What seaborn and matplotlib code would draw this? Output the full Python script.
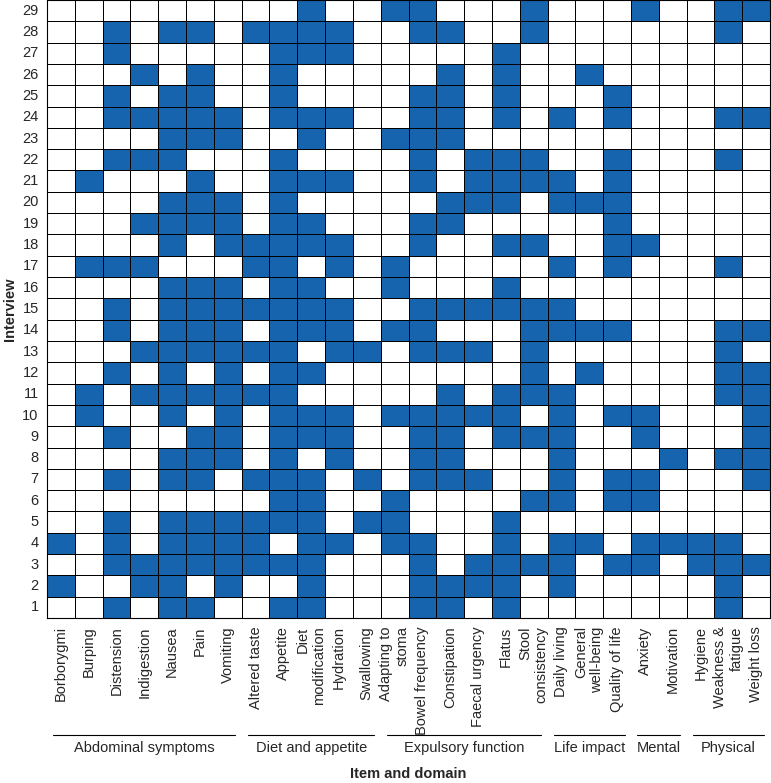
import matplotlib
matplotlib.use("Agg")
import matplotlib.pyplot as plt
import matplotlib.transforms as mtransforms
import numpy as np
import pandas as pd
import seaborn as sns
from matplotlib.colors import ListedColormap

# items (columns) and the domain they belong to
items = [
    "Borborygmi", "Burping", "Distension", "Indigestion", "Nausea", "Pain", "Vomiting",
    "Altered taste", "Appetite", "Diet\nmodification", "Hydration", "Swallowing",
    "Adapting to\nstoma", "Bowel frequency", "Constipation", "Faecal urgency", "Flatus",
    "Stool\nconsistency",
    "Daily living", "General\nwell-being", "Quality of life",
    "Anxiety", "Motivation",
    "Hygiene", "Weakness &\nfatigue", "Weight loss",
]
domains = ["Abdominal symptoms", "Diet and appetite", "Expulsory function",
           "Life impact", "Mental", "Physical"]
domain_sizes = [7, 5, 6, 3, 2, 3]

# interviews, top row first
interviews = list(range(29, 0, -1))
# 1 = item mentioned in the interview, grouped by domain
responses = [
    "0000000 00100 110001 000 10 011",  # 29
    "0010110 11110 011001 000 00 010",  # 28
    "0010000 01110 000010 000 00 000",  # 27
    "0001010 01000 001010 010 00 000",  # 26
    "0010110 01000 011010 001 00 000",  # 25
    "0011111 01110 011010 101 00 011",  # 24
    "0000111 00100 111000 000 00 000",  # 23
    "0011100 01000 010111 001 00 010",  # 22
    "0100010 01110 010111 101 00 000",  # 21
    "0000111 01000 001110 111 00 000",  # 20
    "0001111 01100 011000 001 00 000",  # 19
    "0000101 11110 010011 001 10 000",  # 18
    "0111000 11010 100000 101 00 010",  # 17
    "0000111 01100 100010 000 00 000",  # 16
    "0010111 11110 011111 100 00 000",  # 15
    "0010111 01110 110001 111 00 011",  # 14
    "0001111 11011 011101 000 00 010",  # 13
    "0010101 01100 000001 010 00 011",  # 12
    "0101111 11000 001011 100 00 011",  # 11
    "0100101 01110 111110 101 10 001",  # 10
    "0010011 01110 011011 100 10 001",  # 9
    "0000111 01010 011000 100 01 011",  # 8
    "0010110 11101 011100 101 10 001",  # 7
    "0000000 01100 100001 101 10 000",  # 6
    "0010111 11101 100010 000 00 000",  # 5
    "1010111 10110 110010 110 11 110",  # 4
    "0011111 11100 010111 101 10 111",  # 3
    "1001101 00100 011110 100 00 010",  # 2
    "0010110 01100 011010 000 00 010",  # 1
]

matrix = np.array([[int(c) for c in r.replace(" ", "")] for r in responses])
df = pd.DataFrame(matrix, index=interviews, columns=items)

sns.set_style("white")
plt.rcParams["font.family"] = ["Liberation Sans", "DejaVu Sans"]

fig = plt.figure(figsize=(7.71, 7.83), dpi=100)
ax = fig.add_axes([47 / 771, 1 - 618 / 783, 723 / 771, 618 / 783])

blue = "#1764ae"
sns.heatmap(df, ax=ax, cmap=ListedColormap(["white", blue]), cbar=False,
            linewidths=0.6, linecolor="black", vmin=0, vmax=1)

for s in ax.spines.values():
    s.set_visible(True)
    s.set_color("black")
    s.set_linewidth(0.8)

# ticks drawn on top of the cells, pointing inwards
ax.set_axisbelow(False)
ax.tick_params(direction="in", length=3, width=0.6, color="black",
               labelsize=10.5, pad=6)
ax.set_yticklabels(interviews, rotation=0)
ax.set_xticklabels(items, rotation=90, ha="center", va="top",
                   multialignment="right")
ax.set_xlabel("")
ax.set_ylabel("")

# domain brackets under the item labels
trans = mtransforms.blended_transform_factory(ax.transData, fig.transFigure)
start = 0
for name, size in zip(domains, domain_sizes):
    x0, x1 = start + 0.23, start + size - 0.23
    ax.plot([x0, x1], [1 - 735 / 783] * 2, color="black", lw=0.8,
            transform=trans, clip_on=False)
    ax.text((x0 + x1) / 2, 1 - 748 / 783, name, transform=trans,
            ha="center", va="center", fontsize=10.5)
    start += size

fig.text((47 + 770) / 2 / 771, 1 - 774 / 783, "Item and domain",
         ha="center", va="center", fontsize=10.5, fontweight="bold")
fig.text(10 / 771, 1 - 309 / 783, "Interview", rotation=90,
         ha="center", va="center", fontsize=10.5, fontweight="bold")

fig.savefig("out.png", dpi=100)
